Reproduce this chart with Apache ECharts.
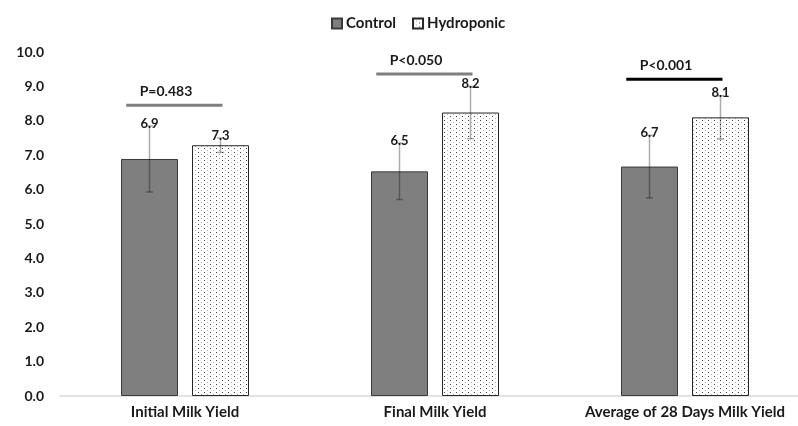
<!DOCTYPE html>
<html>
<head>
<meta charset="utf-8">
<script src="https://cdn.jsdelivr.net/npm/echarts@6/dist/echarts.min.js"></script>
<style>
  html, body { margin: 0; padding: 0; background: #fff; }
  #milk_chart { width: 798px; height: 426px; }
</style>
</head>
<body>
<div id="milk_chart"></div>
<script>
// 数据
var categories = ['Initial Milk Yield', 'Final Milk Yield', 'Average of 28 Days Milk Yield']
var controlValue = [6.89, 6.53, 6.67]
var controlErr = [0.96, 0.82, 0.91]
var hydroValue = [7.29, 8.24, 8.1]
var hydroErr = [0.21, 0.76, 0.63]
var pLabels = ['P=0.483', 'P<0.050', 'P<0.001']
var pLevels = [8.45, 9.36, 9.21]

var FONT = 'Lato'
var pColors = ['#7f7f7f', '#7f7f7f', '#000000']

// 点状填充
function dotPattern() {
  var c = document.createElement('canvas')
  c.width = 6
  c.height = 4
  var g = c.getContext('2d')
  g.fillStyle = '#ffffff'
  g.fillRect(0, 0, 6, 4)
  g.fillStyle = '#404040'
  g.fillRect(0, 0, 1, 1)
  g.fillStyle = '#b0b0b0'
  g.fillRect(3, 2, 1, 1)
  return c
}

function errData(vals, errs) {
  var out = []
  for (var i = 0; i < vals.length; i++) out.push([i, vals[i], errs[i]])
  return out
}

var BAR_W = 57
var BAR_GAP = 14

// 误差线 + 数值标签
function errRender(side) {
  return function (params, api) {
    var i = api.value(0)
    var v = api.value(1)
    var e = api.value(2)
    var c = api.coord([i, v])
    var x = c[0] + side * (BAR_W + BAR_GAP) / 2
    var top = api.coord([i, v + e])[1]
    var bot = api.coord([i, v - e])[1]
    var lineStyle = { stroke: 'rgba(0,0,0,0.32)', lineWidth: 1.5 }
    return {
      type: 'group',
      children: [
        { type: 'line', shape: { x1: x, y1: top, x2: x, y2: bot }, style: lineStyle },
        { type: 'line', shape: { x1: x - 3.5, y1: top, x2: x + 3.5, y2: top }, style: lineStyle },
        { type: 'line', shape: { x1: x - 3.5, y1: bot, x2: x + 3.5, y2: bot }, style: lineStyle },
        {
          type: 'text',
          style: {
            x: x, y: top + 4,
            text: v.toFixed(1),
            align: 'center', verticalAlign: 'bottom',
            font: 'bold 13px ' + FONT,
            fill: '#1a1a1a'
          }
        }
      ]
    }
  }
}

var pData = []
for (var k = 0; k < pLabels.length; k++) pData.push([k, pLevels[k], pLabels[k]])

var milk_chart = echarts.init(document.getElementById('milk_chart'))
var milk_option = {
  animation: false,
  backgroundColor: '#ffffff',
  textStyle: { fontFamily: FONT },
  legend: {
    data: ['Control', 'Hydroponic'],
    icon: 'rect',
    left: 326,
    top: 11,
    itemWidth: 10,
    itemHeight: 10,
    itemGap: 16,
    textStyle: { fontFamily: FONT, fontWeight: 'bold', fontSize: 15, color: '#1a1a1a', padding: [0, 0, 0, -1] }
  },
  grid: { left: 60, right: -12, top: 52, bottom: 30, containLabel: false, outerBoundsMode: 'none' },
  xAxis: {
    type: 'category',
    data: categories,
    axisLine: { lineStyle: { color: '#d9d9d9', width: 1.5 } },
    axisTick: { show: false },
    axisLabel: { interval: 0, hideOverlap: false, fontFamily: FONT, fontWeight: 'bold', fontSize: 15, color: '#1a1a1a', margin: 9 }
  },
  yAxis: {
    type: 'value',
    min: 0,
    max: 10,
    interval: 1,
    splitLine: { show: false },
    axisLine: { show: false },
    axisTick: { show: false },
    axisLabel: {
      fontFamily: FONT, fontWeight: 'bold', fontSize: 14, color: '#1a1a1a', margin: 16,
      formatter: function (v) { return v.toFixed(1) }
    }
  },
  series: [
    {
      name: 'Control',
      type: 'bar',
      barWidth: BAR_W,
      barGap: (BAR_GAP / BAR_W * 100) + '%',
      data: controlValue,
      itemStyle: { color: '#7f7f7f', borderColor: '#3a3a3a', borderWidth: 1 }
    },
    {
      name: 'Hydroponic',
      type: 'bar',
      barWidth: BAR_W,
      data: hydroValue,
      itemStyle: { color: { image: dotPattern(), repeat: 'repeat' }, borderColor: '#262626', borderWidth: 1 }
    },
    {
      name: 'errControl',
      type: 'custom',
      z: 5,
      renderItem: errRender(-1),
      encode: { x: 0, y: 1 },
      data: errData(controlValue, controlErr)
    },
    {
      name: 'errHydro',
      type: 'custom',
      z: 5,
      renderItem: errRender(1),
      encode: { x: 0, y: 1 },
      data: errData(hydroValue, hydroErr)
    },
    {
      name: 'pvalue',
      type: 'custom',
      z: 6,
      encode: { x: 0, y: 1 },
      data: pData,
      renderItem: function (params, api) {
        var i = api.value(0)
        var c = api.coord([i, api.value(1)])
        var band = api.size([1, 0])[0]
        return {
          type: 'group',
          children: [
            {
              type: 'line',
              shape: { x1: c[0] - 0.235 * band, y1: c[1], x2: c[0] + 0.15 * band, y2: c[1] },
              style: { stroke: pColors[params.dataIndex], lineWidth: 3 }
            },
            {
              type: 'text',
              style: {
                x: c[0] - 0.076 * band, y: c[1] - 14,
                text: pLabels[params.dataIndex],
                align: 'center', verticalAlign: 'middle',
                font: 'bold 14px ' + FONT,
                fill: '#1a1a1a'
              }
            }
          ]
        }
      }
    }
  ]
}
milk_chart.setOption(milk_option)
</script>
</body>
</html>
